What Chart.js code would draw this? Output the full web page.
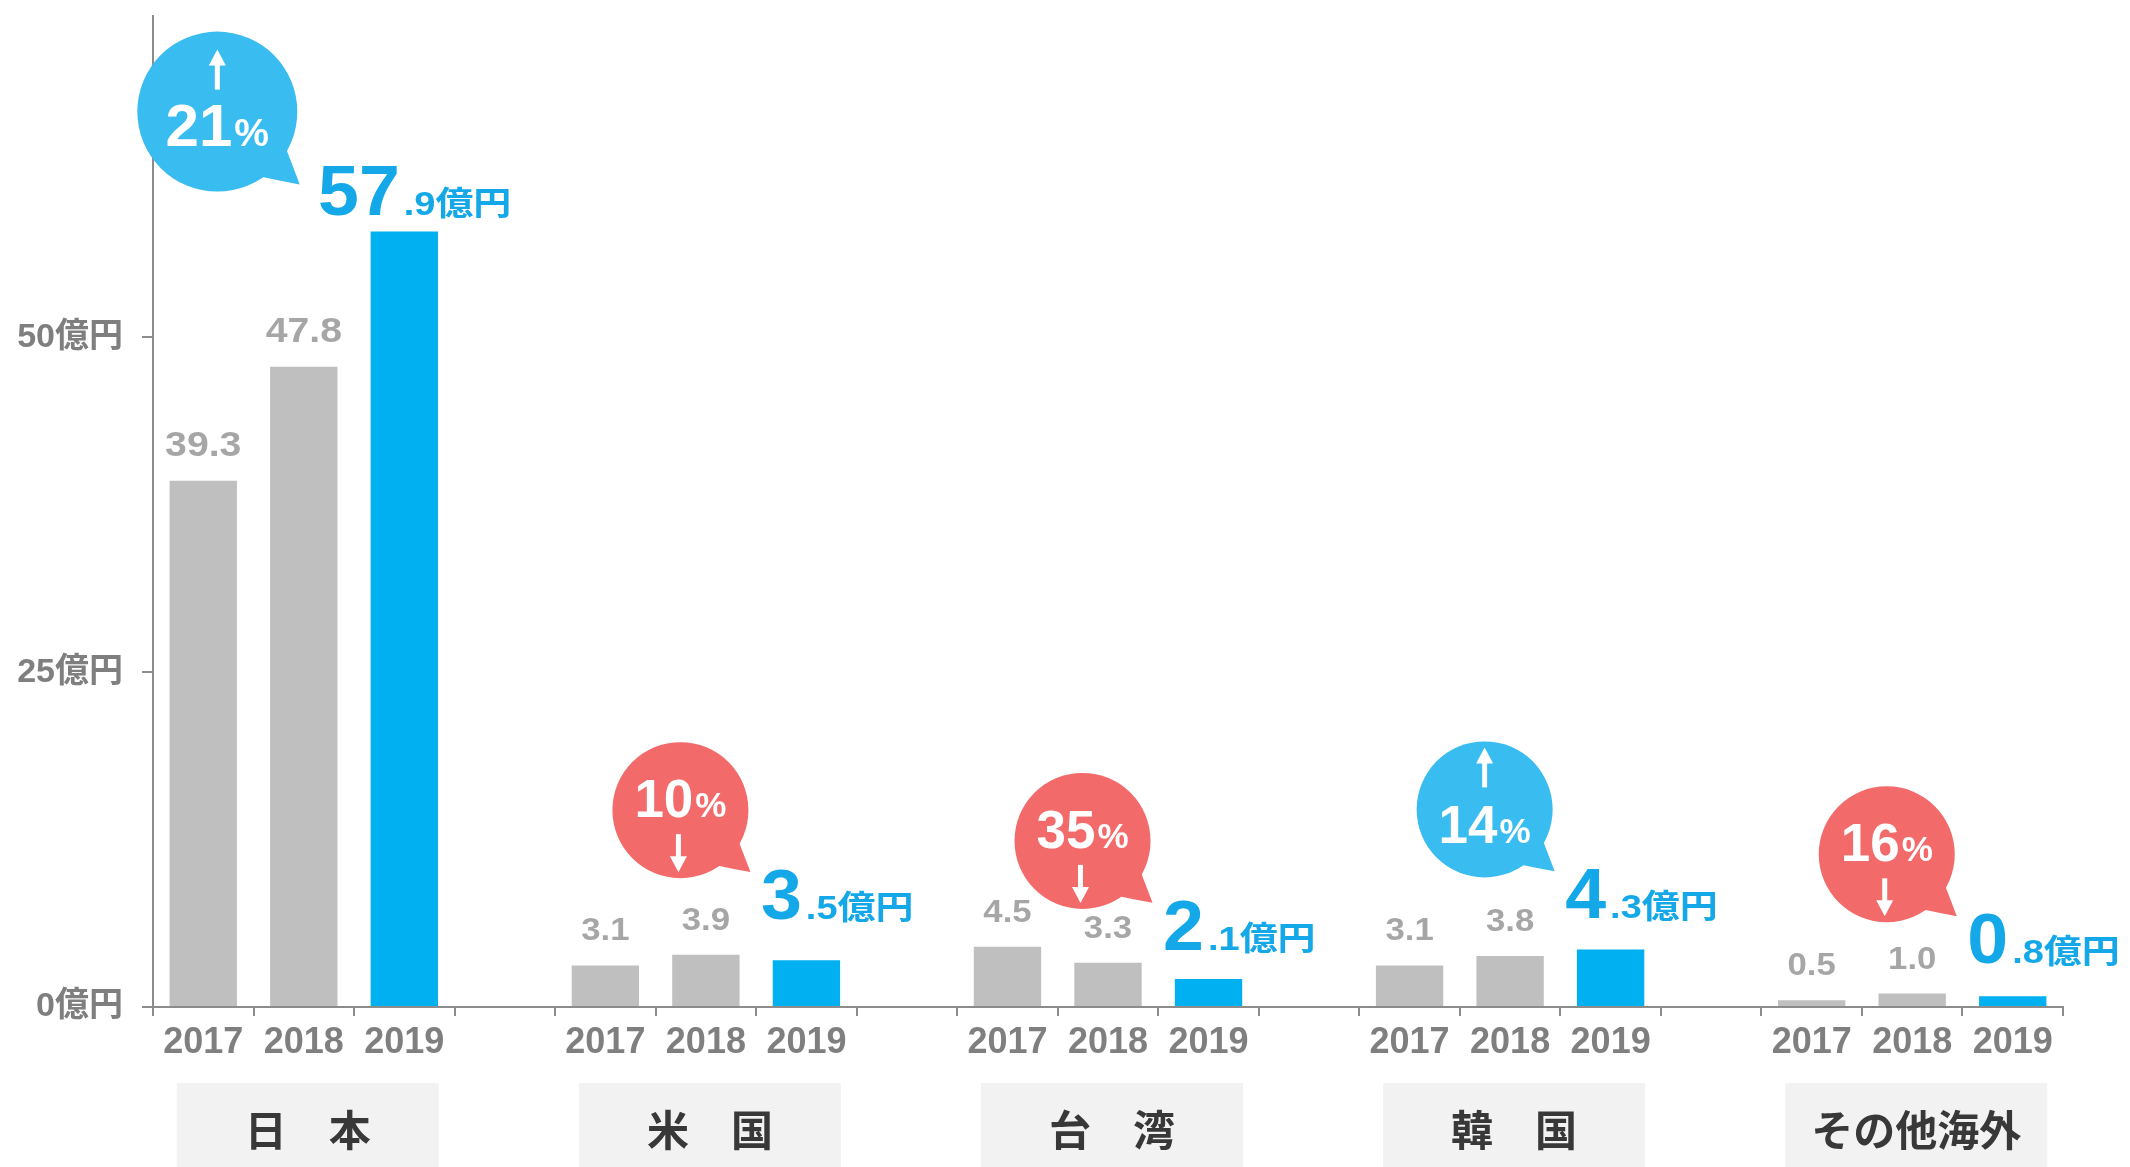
<!DOCTYPE html>
<html>
<head>
<meta charset="utf-8">
<script src="https://cdn.jsdelivr.net/npm/chart.js@4.4.1/dist/chart.umd.min.js"></script>
<style>
html,body{margin:0;padding:0;background:#ffffff;}
#wrap{width:2130px;height:1167px;position:relative;}
</style>
</head>
<body>
<div id="wrap"><canvas id="c" width="2130" height="1167"></canvas></div>
<script>
// ---- data ----
const regions = ['日　本', '米　国', '台　湾', '韓　国', 'その他海外'];
const years = ['2017', '2018', '2019'];
const sales2017 = [39.3, 3.1, 4.5, 3.1, 0.5];
const sales2018 = [47.8, 3.9, 3.3, 3.8, 1.0];
const sales2019 = [57.9, 3.5, 2.1, 4.3, 0.8];
const changePct = [21, 10, 35, 14, 16];
const changeDir = ['up', 'down', 'down', 'up', 'down'];
const yTickValues = [0, 25, 50];
const yMax = 74;

// ---- styling ----
const BLUE = '#00b0f0', GRAY = '#bfbfbf';
const BUBBLE_UP = '#39bcef', BUBBLE_DOWN = '#f26a6a';
const LABEL_BLUE = '#14a8e9';
const FONT = '"Liberation Sans", "Noto Sans CJK JP", Arial, sans-serif';
const CJK = '"Noto Sans CJK JP", "Noto Sans CJK SC", sans-serif';

// build the category table (3 years per region + one empty gap slot)
const series = [sales2017, sales2018, sales2019];
const labels = [], values = [], colors = [], slot = [];
regions.forEach((r, g) => {
  series.forEach((arr, k) => {
    labels.push(years[k]); values.push(arr[g]); colors.push(k === 2 ? BLUE : GRAY); slot.push({g, k});
  });
  if (g < regions.length - 1) { labels.push(''); values.push(null); colors.push(GRAY); slot.push(null); }
});

function drawStretched(ctx, text, x, y, sx, align) {
  ctx.save();
  ctx.translate(x, y);
  ctx.scale(sx, 1);
  ctx.textAlign = align;
  ctx.fillText(text, 0, 0);
  ctx.restore();
}

function drawBubble(ctx, cx, cy, r, color) {
  ctx.fillStyle = color;
  ctx.beginPath(); ctx.arc(cx, cy, r, 0, Math.PI * 2); ctx.fill();
  const a1 = 27 * Math.PI / 180, a2 = 58 * Math.PI / 180;
  const tx = cx + r * 1.03, ty = cy + r * 0.91;
  ctx.beginPath();
  ctx.moveTo(cx + r * Math.cos(a1) * 0.95, cy + r * Math.sin(a1) * 0.95);
  ctx.quadraticCurveTo(cx + r * 0.95, cy + r * 0.7, tx, ty);
  ctx.quadraticCurveTo(cx + r * 0.75, cy + r * 0.86, cx + r * Math.cos(a2) * 0.95, cy + r * Math.sin(a2) * 0.95);
  ctx.closePath(); ctx.fill();
}

function drawArrow(ctx, x, yTail, yTip) {
  const dir = Math.sign(yTip - yTail);
  const head = 16;
  ctx.strokeStyle = '#ffffff'; ctx.fillStyle = '#ffffff'; ctx.lineWidth = 5;
  ctx.beginPath(); ctx.moveTo(x, yTail); ctx.lineTo(x, yTip - dir * head * 0.8); ctx.stroke();
  ctx.beginPath();
  ctx.moveTo(x, yTip);
  ctx.lineTo(x - 8.5, yTip - dir * head);
  ctx.lineTo(x + 8.5, yTip - dir * head);
  ctx.closePath(); ctx.fill();
}

const annot = {
  id: 'annot',
  afterDatasetsDraw(chart) {
    const ctx = chart.ctx;
    const meta = chart.getDatasetMeta(0);
    const lift = [17, 41, 29, 31, 33];
    ctx.save();
    meta.data.forEach((bar, i) => {
      const s = slot[i];
      if (!s) return;
      const v = values[i];
      ctx.textBaseline = 'alphabetic';
      if (s.k < 2) {
        ctx.fillStyle = '#a6a6a6';
        const fs = s.g === 0 ? 35 : 31;
        ctx.font = `bold ${fs}px ${FONT}`;
        drawStretched(ctx, v.toFixed(1), bar.x, bar.y - 25, 1.12, 'center');
      } else {
        const g = s.g;
        const txt = v.toFixed(1);
        const intPart = txt.split('.')[0];
        const rest = '.' + txt.split('.')[1] + '億円';
        const base = bar.y - lift[g];
        ctx.font = `bold 70px ${FONT}`;
        const w1 = ctx.measureText(intPart).width * 1.05;
        ctx.font = `bold 33px ${FONT}`;
        const w2 = ctx.measureText(rest).width * 1.15;
        const right = bar.x + 107;
        const left = right - w2 - w1 - 4;
        ctx.fillStyle = LABEL_BLUE;
        ctx.font = `bold 70px ${FONT}`;
        drawStretched(ctx, intPart, left, base, 1.05, 'left');
        ctx.font = `bold 33px ${FONT}`;
        drawStretched(ctx, rest, left + w1 + 4, base, 1.15, 'left');

        // bubble
        const big = g === 0;
        const r = big ? 80 : 68;
        const cx = bar.x - (big ? 187 : 126);
        const cy = base - (big ? 103 : 109);
        const up = changeDir[g] === 'up';
        drawBubble(ctx, cx, cy, r, up ? BUBBLE_UP : BUBBLE_DOWN);
        const nf = big ? 60 : 53, pf = big ? 39 : 35;
        const num = String(changePct[g]);
        ctx.font = `bold ${nf}px ${FONT}`;
        const wn = ctx.measureText(num).width;
        ctx.font = `bold ${pf}px ${FONT}`;
        const wp = ctx.measureText('%').width;
        const x0 = cx - (wn + wp + 2) / 2;
        const tb = up ? cy + 34 : cy + 7;
        ctx.fillStyle = '#ffffff';
        ctx.textAlign = 'left';
        ctx.font = `bold ${nf}px ${FONT}`;
        ctx.fillText(num, x0, tb);
        ctx.font = `bold ${pf}px ${FONT}`;
        ctx.fillText('%', x0 + wn + 2, tb);
        if (up) drawArrow(ctx, cx, cy - 22, cy - 62);
        else drawArrow(ctx, cx - 2, cy + 24, cy + 62);
      }
    });
    ctx.restore();
  },
  afterDraw(chart) {
    const ctx = chart.ctx;
    const meta = chart.getDatasetMeta(0);
    ctx.save();
    regions.forEach((name, g) => {
      const xs = [0, 1, 2].map(k => meta.data[g * 4 + k].x);
      const c = (xs[0] + xs[2]) / 2 + 4;
      const w = 262;
      ctx.fillStyle = '#f2f2f2';
      ctx.fillRect(c - w / 2, 1083, w, 1167 - 1083);
      ctx.fillStyle = '#383838';
      ctx.font = `bold 42px ${CJK}`;
      ctx.textAlign = 'center';
      ctx.textBaseline = 'middle';
      ctx.fillText(name, c, 1130);
    });
    ctx.restore();
  }
};

new Chart(document.getElementById('c'), {
  type: 'bar',
  data: {
    labels: labels,
    datasets: [{
      data: values,
      backgroundColor: colors,
      borderWidth: 0,
      barPercentage: 0.67,
      categoryPercentage: 1.0
    }]
  },
  options: {
    responsive: false,
    animation: false,
    devicePixelRatio: 1,
    layout: { padding: { top: 16, right: 67, left: 0, bottom: 0 } },
    plugins: { legend: { display: false }, tooltip: { enabled: false } },
    scales: {
      x: {
        offset: true,
        grid: { offset: true, drawOnChartArea: false, drawTicks: true, tickLength: 9, color: '#8c8c8c', lineWidth: 2 },
        border: { display: true, color: '#8c8c8c', width: 2 },
        ticks: {
          autoSkip: false, maxRotation: 0, minRotation: 0, padding: 5,
          color: '#7f7f7f',
          font: { family: FONT, size: 36, weight: 'bold' }
        },
        afterFit(scale) { scale.height = 160; scale.paddingLeft = 0; scale.paddingRight = 0; }
      },
      y: {
        min: 0, max: yMax,
        grid: { drawOnChartArea: false, drawTicks: true, tickLength: 11, color: '#8c8c8c', lineWidth: 2 },
        border: { display: true, color: '#8c8c8c', width: 2 },
        afterBuildTicks(scale) { scale.ticks = yTickValues.map(v => ({ value: v })); },
        ticks: {
          padding: 19,
          color: '#7f7f7f',
          font: { family: FONT, size: 34, weight: 'bold' },
          callback: v => v + '億円'
        },
        afterFit(scale) { scale.width = 153; scale.paddingTop = 0; scale.paddingBottom = 0; }
      }
    }
  },
  plugins: [annot]
});
</script>
</body>
</html>
